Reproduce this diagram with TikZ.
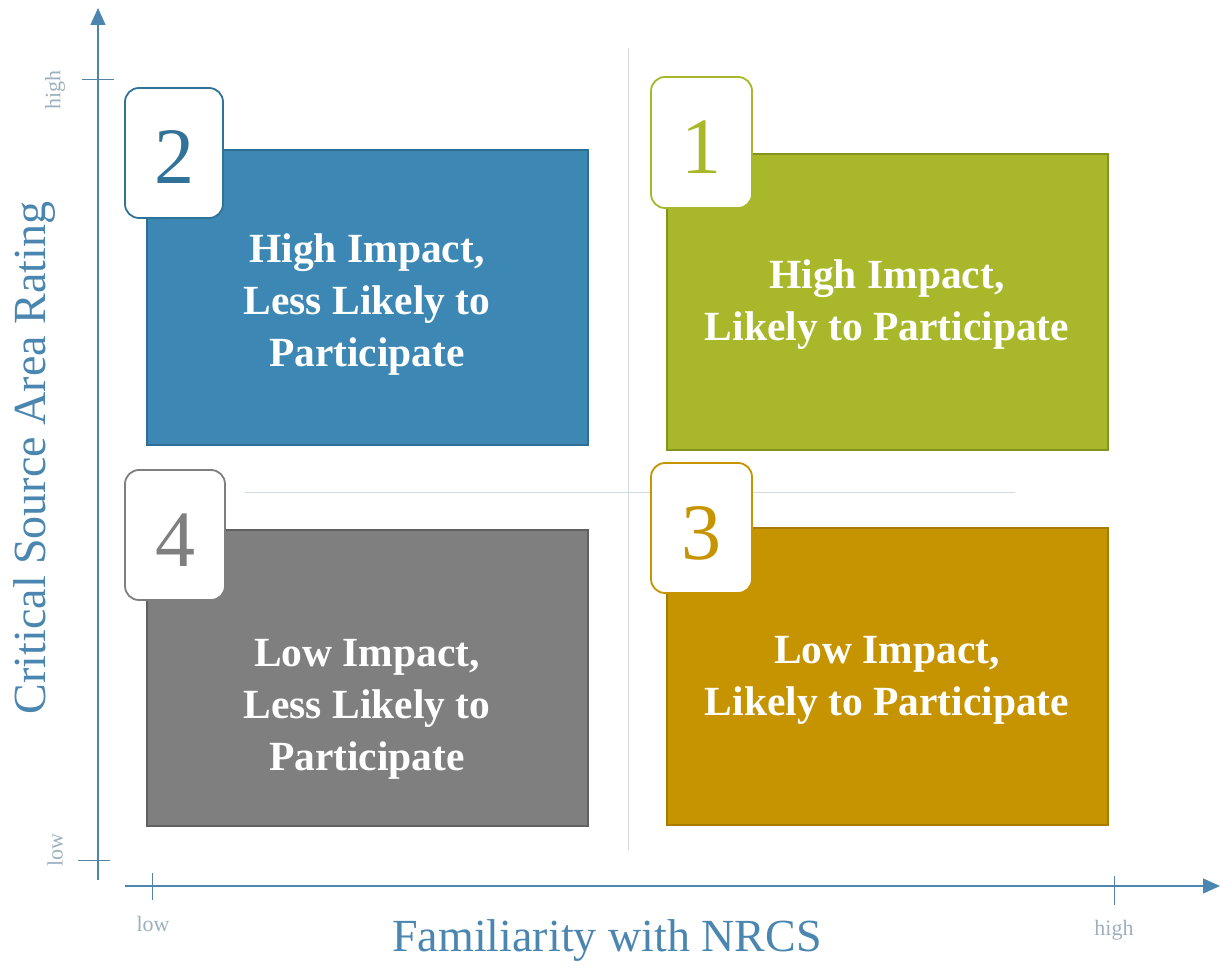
\documentclass[tikz,border=0pt]{standalone}
\usepackage{fontspec}
\setmainfont{Liberation Serif}
\usetikzlibrary{arrows.meta}
\definecolor{axisblue}{HTML}{4A86B0}
\definecolor{ticklbl}{HTML}{9DB0BE}
\definecolor{divider}{HTML}{D3DADF}
\definecolor{qblue}{HTML}{3C87B4}
\definecolor{qblueD}{HTML}{2F6E93}
\definecolor{qgreen}{HTML}{A8B82A}
\definecolor{qgreenD}{HTML}{84931E}
\definecolor{qgray}{HTML}{7F7F7F}
\definecolor{qgrayD}{HTML}{606060}
\definecolor{qgold}{HTML}{C69400}
\definecolor{qgoldD}{HTML}{A67C00}
\begin{document}
\begin{tikzpicture}[x=1pt,y=-1pt,
  quad/.style={draw=#1, line width=1.5pt},
  numbox/.style={draw=#1, fill=white, line width=1.8pt, rounded corners=14pt,
    text=#1, font=\fontsize{80}{80}\selectfont, inner sep=0pt,
    text height=62pt, text depth=0pt},
  quadtext/.style={text=white, align=center, font=\fontsize{41.5}{52}\selectfont\bfseries},
  axis/.style={draw=axisblue, line width=1.3pt},
  tick/.style={draw=axisblue!80!gray, line width=1pt},
  ticklabel/.style={text=ticklbl, font=\fontsize{22}{22}\selectfont},
  axistitle/.style={text=axisblue, font=\fontsize{46}{46}\selectfont},
  divline/.style={draw=divider, line width=1pt}]
\useasboundingbox (0,0) rectangle (1220,968);

% quadrant dividers
\coordinate (vtop) at (628,48);
\coordinate (vbot) at (628,850);
\coordinate (hl) at (245,492);
\coordinate (hr) at (1015,492);
\draw[divline] (vtop) -- (vbot);
\draw[divline] (hl) -- (hr);

% axes
\coordinate (yaxb) at (98,880);
\coordinate (yaxt) at (98,8);
\coordinate (xaxl) at (125,886);
\coordinate (xaxr) at (1220,886);
\draw[axis, -{Triangle[length=17pt,width=15pt]}, fill=axisblue] (yaxb) -- (yaxt);
\draw[axis, -{Triangle[length=17pt,width=15pt]}, fill=axisblue] (xaxl) -- (xaxr);

% ticks
\coordinate (yht1) at (82,80);  \coordinate (yht2) at (114,80);
\coordinate (ylt1) at (78,860); \coordinate (ylt2) at (110,860);
\coordinate (xlt1) at (152,873); \coordinate (xlt2) at (152,900);
\coordinate (xht1) at (1114,876); \coordinate (xht2) at (1114,905);
\draw[tick] (yht1) -- (yht2);
\draw[tick] (ylt1) -- (ylt2);
\draw[tick] (xlt1) -- (xlt2);
\draw[tick] (xht1) -- (xht2);

% tick labels
\node[ticklabel, rotate=90] (yhigh) at (55,90) {high};
\node[ticklabel, rotate=90] (ylow) at (55,850) {low};
\node[ticklabel] (xlow) at (153,924) {low};
\node[ticklabel] (xhigh) at (1114,930) {high};

% axis titles
\node[axistitle, rotate=90] (ytitle) at (35,458) {Critical Source Area Rating};
\node[axistitle] (xtitle) at (607,940) {Familiarity with NRCS};

% quadrant panels
\path[quad=qblueD, fill=qblue] (147,150) rectangle (588,445);
\path[quad=qgreenD, fill=qgreen] (667,154) rectangle (1108,450);
\path[quad=qgrayD, fill=qgray] (147,530) rectangle (588,826);
\path[quad=qgoldD, fill=qgold] (667,528) rectangle (1108,825);

\node[quadtext] (t2) at (367,305) {High Impact,\\Less Likely to\\Participate};
\node[quadtext] (t1) at (887,305) {High Impact,\\Likely to Participate};
\node[quadtext] (t4) at (367,709) {Low Impact,\\Less Likely to\\Participate};
\node[quadtext] (t3) at (887,680) {Low Impact,\\Likely to Participate};

% number tabs
\node[numbox=qblueD!85!qblue, minimum width=98pt, minimum height=130pt] (n2) at (174,153) {2};
\node[numbox=qgreen, minimum width=101pt, minimum height=131pt] (n1) at (701.5,142.5) {1};
\node[numbox=qgray, minimum width=100pt, minimum height=130pt] (n4) at (175,535) {4};
\node[numbox=qgold, minimum width=101pt, minimum height=130pt] (n3) at (701.5,528) {3};
\end{tikzpicture}
\end{document}
